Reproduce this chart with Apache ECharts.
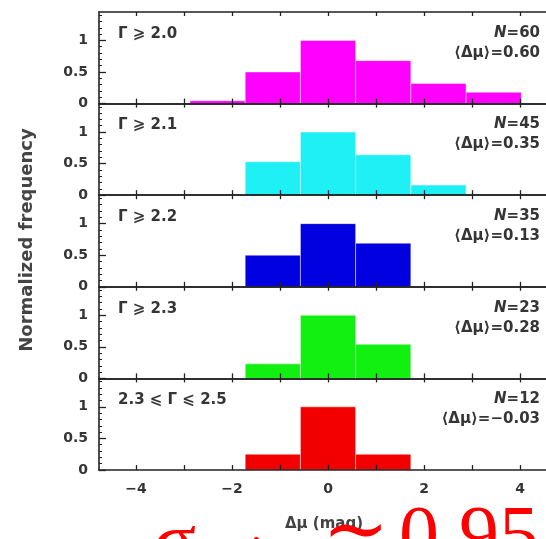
<!DOCTYPE html>
<html>
<head>
<meta charset="utf-8">
<script src="https://cdn.jsdelivr.net/npm/echarts@6/dist/echarts.min.js"></script>
<style>
  html, body { margin: 0; padding: 0; background: #fff; }
  #chart { width: 546px; height: 539px; }
</style>
</head>
<body>
<div id="chart"></div>
<script>
// histogram bins (mag), shared by every panel
const binCenters = [-2.3, -1.15, 0, 1.15, 2.3, 3.45];
const binWidth = 1.15;

// normalized frequencies, one array per Gamma cut
const freqG20 = [0.045, 0.5, 1, 0.68, 0.32, 0.18];
const freqG21 = [0, 0.53, 1, 0.64, 0.16, 0];
const freqG22 = [0, 0.5, 1, 0.69, 0, 0];
const freqG23 = [0, 0.23, 1, 0.54, 0, 0];
const freqG25 = [0, 0.25, 1, 0.25, 0, 0];

const panelLabels = ['Γ ⩾ 2.0', 'Γ ⩾ 2.1', 'Γ ⩾ 2.2', 'Γ ⩾ 2.3', '2.3 ⩽ Γ ⩽ 2.5'];
const panelN = ['60', '45', '35', '23', '12'];
const panelMeanDmu = ['0.60', '0.35', '0.13', '0.28', '−0.03'];
const panelColors = ['#ff00ff', '#1ff0f5', '#0000e0', '#12f012', '#f20000'];

const xTicks = [-4, -3, -2, -1, 0, 1, 2, 3, 4];
const xTickLabels = [-4, -2, 0, 2, 4];
const yTicks = [0, 0.5, 1];
const yMinorTicks = [0.1, 0.2, 0.3, 0.4, 0.6, 0.7, 0.8, 0.9, 1.1, 1.2, 1.3, 1.4];

const freqs = [freqG20, freqG21, freqG22, freqG23, freqG25];

const chart = echarts.init(document.getElementById('chart'));

// plot runs off the right edge of the picture
const X_MIN = -4.77, X_MAX = 4.54;
const Y_MAX = 1.45;
const LEFT = 99, TOP = 12, PANEL_H = 91.6, PLOT_W = 447;
const axisColor = '#222';
const textColor = '#353535';
const sansBold = 'bold 15px "DejaVu Sans", sans-serif';

const grids = [], xAxes = [], yAxes = [], series = [], graphics = [];

freqs.forEach((vals, i) => {
  const top = TOP + i * PANEL_H;
  grids.push({ left: LEFT, top: top, width: PLOT_W, height: PANEL_H });

  // bottom axis of the panel
  xAxes.push({
    type: 'value', gridIndex: i, position: 'bottom', min: X_MIN, max: X_MAX, z: 10,
    splitLine: { show: false },
    axisLine: { onZero: false, lineStyle: { color: axisColor, width: 1.6 } },
    axisTick: { inside: true, length: 5, customValues: xTicks, lineStyle: { color: axisColor, width: 1.3 } },
    axisLabel: {
      show: i === freqs.length - 1, customValues: xTickLabels, margin: 12,
      color: textColor, fontFamily: 'DejaVu Sans', fontWeight: 'bold', fontSize: 14,
      formatter: v => String(v).replace('-', '−')
    }
  });
  // top axis, ticks pointing down
  xAxes.push({
    type: 'value', gridIndex: i, position: 'top', min: X_MIN, max: X_MAX, z: 10,
    splitLine: { show: false },
    axisLine: { onZero: false, lineStyle: { color: axisColor, width: 1.6 } },
    axisTick: { inside: true, length: 4, customValues: xTicks, lineStyle: { color: axisColor, width: 1.3 } },
    axisLabel: { show: false }
  });

  yAxes.push({
    type: 'value', gridIndex: i, position: 'left', min: 0, max: Y_MAX, z: 10,
    splitLine: { show: false },
    axisLine: { show: true, onZero: false, lineStyle: { color: axisColor, width: 1.6 } },
    axisTick: { inside: true, length: 7, customValues: yTicks, lineStyle: { color: axisColor, width: 1.3 } },
    axisLabel: {
      customValues: yTicks, margin: 11,
      color: textColor, fontFamily: 'DejaVu Sans', fontWeight: 'bold', fontSize: 14
    }
  });
  yAxes.push({
    type: 'value', gridIndex: i, position: 'left', min: 0, max: Y_MAX, z: 10,
    splitLine: { show: false },
    axisLine: { show: false, onZero: false },
    axisTick: { inside: true, length: 3, customValues: yMinorTicks, lineStyle: { color: axisColor, width: 1 } },
    axisLabel: { show: false }
  });

  series.push({
    type: 'custom',
    xAxisIndex: i * 2,
    yAxisIndex: i * 2,
    z: 2,
    data: binCenters.map((c, j) => [c, vals[j]]).filter(d => d[1] > 0),
    renderItem: (params, api) => {
      const c = api.value(0), v = api.value(1);
      const p0 = api.coord([c - binWidth / 2, v]);
      const p1 = api.coord([c + binWidth / 2, 0]);
      return {
        type: 'rect',
        shape: { x: p0[0], y: p0[1], width: p1[0] - p0[0], height: p1[1] - p0[1] },
        style: { fill: panelColors[i], stroke: 'rgba(255,255,255,0.45)', lineWidth: 1 }
      };
    }
  });

  graphics.push({
    type: 'text', x: 118, y: top + 22,
    style: { text: panelLabels[i], font: sansBold, fill: textColor, align: 'left', verticalAlign: 'middle' }
  });
  graphics.push({
    type: 'text', x: 540, y: top + 21,
    style: {
      text: '{i|N}=' + panelN[i], font: sansBold, fill: textColor, align: 'right', verticalAlign: 'middle',
      rich: { i: { font: 'italic bold 15px "DejaVu Sans", sans-serif', fill: textColor } }
    }
  });
  graphics.push({
    type: 'text', x: 540, y: top + 41,
    style: { text: '⟨Δμ⟩=' + panelMeanDmu[i], font: sansBold, fill: textColor, align: 'right', verticalAlign: 'middle' }
  });
});

// axis titles
graphics.push({
  type: 'text', x: 27, y: 240, rotation: Math.PI / 2,
  style: { text: 'Normalized frequency', font: 'bold 18px "DejaVu Sans", sans-serif', fill: '#444', align: 'center', verticalAlign: 'middle' }
});
graphics.push({
  type: 'text', x: 324, y: 524,
  style: { text: 'Δμ (mag)', font: 'bold 15px "DejaVu Sans", sans-serif', fill: '#444', align: 'center', verticalAlign: 'middle' }
});

// red overlay annotation, cut by the bottom edge
const redFont = '80px "Liberation Serif", "DejaVu Serif", serif';
graphics.push({ type: 'text', x: 153, y: 546, z: 100, style: { text: 'σ', font: redFont, fill: '#ff0000', verticalAlign: 'middle' } });
graphics.push({ type: 'text', x: 249, y: 560, z: 100, style: { text: 'int', font: '56px "Liberation Serif", serif', fill: '#ff0000', verticalAlign: 'middle' } });
graphics.push({ type: 'text', x: 322, y: 542, z: 100, style: { text: '≃', font: redFont, fill: '#ff0000', verticalAlign: 'middle' } });
graphics.push({ type: 'text', x: 399, y: 540, z: 100, style: { text: '0.95', font: redFont, fill: '#ff0000', verticalAlign: 'middle' } });

chart.setOption({
  animation: false,
  backgroundColor: '#fff',
  grid: grids,
  xAxis: xAxes,
  yAxis: yAxes,
  series: series,
  graphic: graphics
});
</script>
</body>
</html>
